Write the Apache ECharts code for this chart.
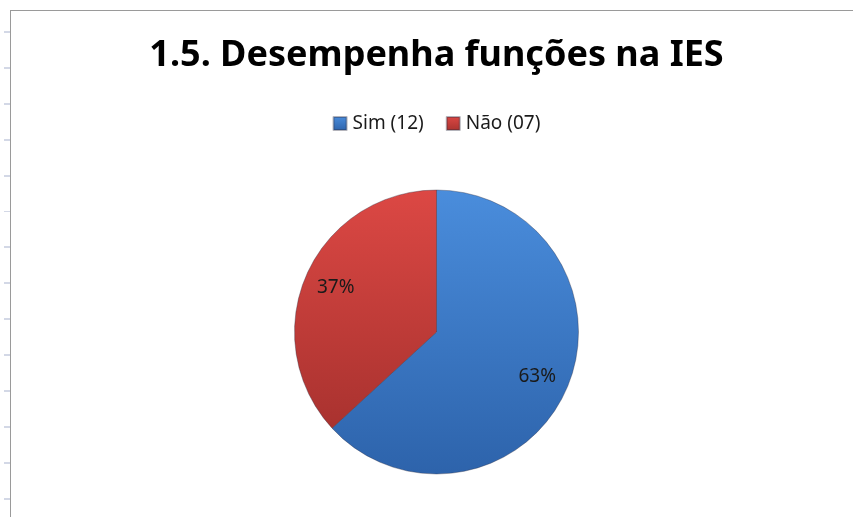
<!DOCTYPE html>
<html>
<head>
<meta charset="utf-8">
<script src="https://cdn.jsdelivr.net/npm/echarts@6/dist/echarts.min.js"></script>
<style>
  html, body { margin: 0; padding: 0; overflow: hidden; background: #fff; width: 853px; height: 517px; }
  #ticks {
    position: absolute; left: 4px; top: 0; width: 6px; height: 517px;
    background: repeating-linear-gradient(to bottom, transparent 0px, transparent 31px, #d3d8e6 31px, #d3d8e6 33px, transparent 33px, transparent 35.9px);
  }
  #frame {
    position: absolute; left: 10px; top: 10px; width: 853px; height: 517px;
    border-left: 1px solid #9a9a9a; border-top: 1px solid #9a9a9a;
  }
  #main { width: 851px; height: 507px; }
</style>
</head>
<body>
<div id="ticks"></div>
<div id="frame"><div id="main"></div></div>
<script>
var titleText = '1.5. Desempenha funções na IES';
var categories = ['Sim (12)', 'Não (07)'];
var counts = [12, 7];

var colors = [
  new echarts.graphic.LinearGradient(0, 0, 0, 1, [
    { offset: 0, color: '#4a8ddc' }, { offset: 1, color: '#2d63ab' }
  ]),
  new echarts.graphic.LinearGradient(0, 0, 0, 1, [
    { offset: 0, color: '#dc4844' }, { offset: 1, color: '#a9322f' }
  ])
];

var pieData = categories.map(function (name, i) {
  return { name: name, value: counts[i], itemStyle: { color: colors[i] } };
});
var labelData = categories.map(function (name, i) {
  return { name: name, value: counts[i] };
});

var chart = echarts.init(document.getElementById('main'));
chart.setOption({
  animation: false,
  title: {
    text: titleText,
    left: 'center',
    top: 22,
    textStyle: { fontFamily: 'Noto Sans', fontWeight: 'bold', fontSize: 36, color: '#000' }
  },
  legend: {
    data: categories,
    left: 'center',
    top: 98,
    icon: 'rect',
    itemWidth: 13,
    itemHeight: 13,
    itemGap: 22,
    textStyle: { fontFamily: 'Noto Sans', fontSize: 19, color: '#1a1a1a', padding: [0, 0, 0, 1] }
  },
  series: [
    {
      type: 'pie',
      center: ['50%', 321],
      radius: [0, 142],
      startAngle: 90,
      clockwise: true,
      data: pieData,
      label: { show: false },
      labelLine: { show: false },
      itemStyle: { borderColor: 'rgba(40,40,60,0.35)', borderWidth: 1 },
      emphasis: { disabled: true }
    },
    {
      type: 'pie',
      center: ['50%', 321],
      radius: [72, 142],
      startAngle: 90,
      clockwise: true,
      silent: true,
      data: labelData,
      itemStyle: { color: 'rgba(0,0,0,0)' },
      label: {
        position: 'inside',
        formatter: function (p) { return Math.round(p.percent) + '%'; },
        fontFamily: 'Noto Sans',
        fontSize: 19,
        color: '#1a1a1a'
      },
      labelLine: { show: false },
      emphasis: { disabled: true }
    }
  ]
});
</script>
</body>
</html>
